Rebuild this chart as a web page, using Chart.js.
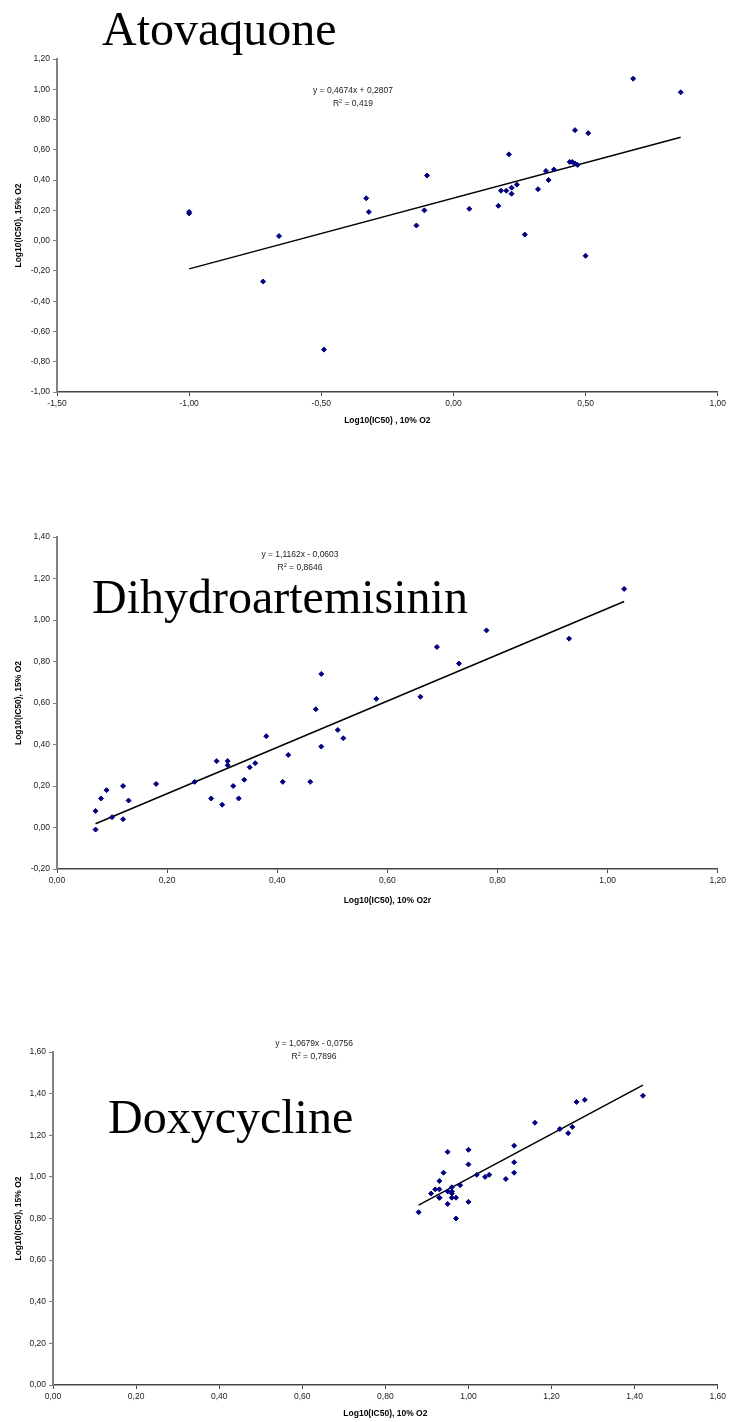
<!DOCTYPE html>
<html>
<head>
<meta charset="utf-8">
<title>Log10(IC50) 10% vs 15% O2</title>
<script src="https://cdn.jsdelivr.net/npm/chart.js@4.4.1/dist/chart.umd.min.js"></script>
<style>
  html, body { margin: 0; padding: 0; background: #fff; }
  body { position: relative; width: 729px; height: 1422px; overflow: hidden; font-family: "Liberation Sans", Arial, sans-serif; }
  canvas { position: absolute; left: 0; }
  .drug { position: absolute; font-family: "Liberation Serif", "Times New Roman", serif; font-size: 48px; line-height: 48px; color: #000; white-space: nowrap; }
  .eq { position: absolute; width: 200px; text-align: center; font-size: 8.5px; line-height: 13px; color: #222; white-space: nowrap; }
  .eq sup { font-size: 5.5px; vertical-align: 3px; line-height: 0; }
</style>
</head>
<body>

<canvas id="ato" width="729" height="430" style="top:0px"></canvas>
<canvas id="dha" width="729" height="440" style="top:470px"></canvas>
<canvas id="dox" width="729" height="422" style="top:1000px"></canvas>

<div class="drug" style="left:102px; top:5px">Atovaquone</div>
<div class="drug" style="left:92px; top:573px">Dihydroartemisinin</div>
<div class="drug" style="left:108px; top:1093px">Doxycycline</div>

<div class="eq" style="left:253px; top:84px">y = 0,4674x + 0,2807<br>R<sup>2</sup> = 0,419</div>
<div class="eq" style="left:200px; top:548px">y = 1,1162x - 0,0603<br>R<sup>2</sup> = 0,8646</div>
<div class="eq" style="left:214px; top:1037px">y = 1,0679x - 0,0756<br>R<sup>2</sup> = 0,7896</div>

<script>
// ── Atovaquone ──────────────────────────────────────────
const atoX = [-1.00, -1.00, -0.66, -0.72, -0.49, -0.33, -0.32, -0.14, -0.11, -0.10,
  0.06, 0.17, 0.18, 0.20, 0.21, 0.22, 0.22, 0.24, 0.27, 0.32,
  0.35, 0.36, 0.38, 0.44, 0.45, 0.46, 0.46, 0.47, 0.51, 0.50, 0.68, 0.86];
const atoY = [0.19, 0.18, 0.03, -0.27, -0.72, 0.28, 0.19, 0.10, 0.20, 0.43,
  0.21, 0.23, 0.33, 0.33, 0.57, 0.35, 0.31, 0.37, 0.04, 0.34,
  0.46, 0.40, 0.47, 0.52, 0.52, 0.73, 0.51, 0.50, 0.71, -0.10, 1.07, 0.98];
const atoFit = [0.4674, 0.2807];
const atoXTicks = [-1.5, 1.0, 0.5];
const atoYTicks = [-1.0, 1.2, 0.2];

// ── Dihydroartemisinin ──────────────────────────────────
const dhaX = [0.07, 0.07, 0.08, 0.09, 0.10, 0.12, 0.12, 0.13, 0.18, 0.25,
  0.28, 0.29, 0.30, 0.31, 0.31, 0.32, 0.33, 0.34, 0.35, 0.36,
  0.38, 0.41, 0.42, 0.46, 0.47, 0.48, 0.48, 0.51, 0.52, 0.58,
  0.66, 0.69, 0.73, 0.78, 0.93, 1.03];
const dhaY = [0.08, -0.01, 0.14, 0.18, 0.05, 0.04, 0.20, 0.13, 0.21, 0.22,
  0.14, 0.32, 0.11, 0.32, 0.30, 0.20, 0.14, 0.23, 0.29, 0.31,
  0.44, 0.22, 0.35, 0.22, 0.57, 0.74, 0.39, 0.47, 0.43, 0.62,
  0.63, 0.87, 0.79, 0.95, 0.91, 1.15];
const dhaFit = [1.1162, -0.0603];
const dhaXTicks = [0.0, 1.2, 0.2];
const dhaYTicks = [-0.2, 1.4, 0.2];

// ── Doxycycline ─────────────────────────────────────────
const doxX = [0.88, 0.91, 0.92, 0.93, 0.93, 0.93, 0.93, 0.94, 0.95, 0.95,
  0.95, 0.96, 0.96, 0.96, 0.96, 0.97, 0.97, 0.98, 1.00, 1.00,
  1.00, 1.02, 1.04, 1.05, 1.09, 1.11, 1.11, 1.11, 1.16, 1.22,
  1.24, 1.25, 1.26, 1.28, 1.42];
const doxY = [0.83, 0.92, 0.94, 0.90, 0.94, 0.98, 0.90, 1.02, 1.12, 0.87,
  0.93, 0.92, 0.93, 0.95, 0.90, 0.80, 0.90, 0.96, 1.13, 1.06,
  0.88, 1.01, 1.00, 1.01, 0.99, 1.15, 1.07, 1.02, 1.26, 1.23,
  1.21, 1.24, 1.36, 1.37, 1.39];
const doxFit = [1.0679, -0.0756];
const doxXTicks = [0.0, 1.6, 0.2];
const doxYTicks = [0.0, 1.6, 0.2];

// comma decimals, and no "-0,00" from float noise
const fmt = v => {
  const n = Math.abs(v) < 1e-9 ? 0 : Number(v);
  return n.toFixed(2).replace('.', ',');
};
const tickFont = { family: '"Liberation Sans", Arial, sans-serif', size: 8.5 };
const titleFont = { family: '"Liberation Sans", Arial, sans-serif', size: 8.5, weight: 'bold' };

function makeChart(id, xs, ys, fit, xTicks, yTicks, xTitle, box) {
  const pts = xs.map((x, i) => ({ x, y: ys[i] }));
  const x0 = Math.min(...xs), x1 = Math.max(...xs);
  const trend = [x0, x1].map(x => ({ x, y: fit[0] * x + fit[1] }));

  return new Chart(document.getElementById(id), {
    type: 'scatter',
    data: {
      datasets: [
        {
          data: pts,
          pointStyle: 'rectRot',
          pointRadius: 2.5,
          pointBorderWidth: 1,
          backgroundColor: '#000080',
          borderColor: '#000080',
        },
        {
          data: trend,
          showLine: true,
          pointRadius: 0,
          borderColor: '#000',
          borderWidth: 1.5,
          fill: false,
        },
      ],
    },
    options: {
      responsive: false,
      animation: false,
      layout: { padding: box.pad },
      plugins: { legend: { display: false }, tooltip: { enabled: false } },
      scales: {
        x: {
          type: 'linear',
          min: xTicks[0],
          max: xTicks[1],
          afterFit: s => { s.height = box.xh; },
          ticks: { stepSize: xTicks[2], callback: fmt, font: tickFont, color: '#222', padding: 3, maxRotation: 0 },
          grid: { drawOnChartArea: false, drawTicks: true, tickLength: 4, color: '#444' },
          border: { color: '#444', width: 1.5 },
          title: { display: true, text: xTitle, font: titleFont, color: '#000', padding: 0 },
        },
        y: {
          type: 'linear',
          min: yTicks[0],
          max: yTicks[1],
          afterFit: s => { s.width = box.yw; },
          ticks: { stepSize: yTicks[2], callback: fmt, font: tickFont, color: '#222', padding: 3 },
          grid: { drawOnChartArea: false, drawTicks: true, tickLength: 4, color: '#808080' },
          border: { color: '#808080', width: 2 },
          title: { display: true, text: 'Log10(IC50), 15% O2', font: titleFont, color: '#000', padding: 0 },
        },
      },
    },
  });
}

makeChart('ato', atoX, atoY, atoFit, atoXTicks, atoYTicks, 'Log10(IC50) , 10% O2',
  { pad: { top: 59, left: 14, right: 11, bottom: 4 }, xh: 34, yw: 43 });
makeChart('dha', dhaX, dhaY, dhaFit, dhaXTicks, dhaYTicks, 'Log10(IC50), 10% O2r',
  { pad: { top: 67, left: 14, right: 10, bottom: 4 }, xh: 37, yw: 43 });
makeChart('dox', doxX, doxY, doxFit, doxXTicks, doxYTicks, 'Log10(IC50), 10% O2',
  { pad: { top: 52, left: 14, right: 10, bottom: 3 }, xh: 34, yw: 39 });
</script>
</body>
</html>
